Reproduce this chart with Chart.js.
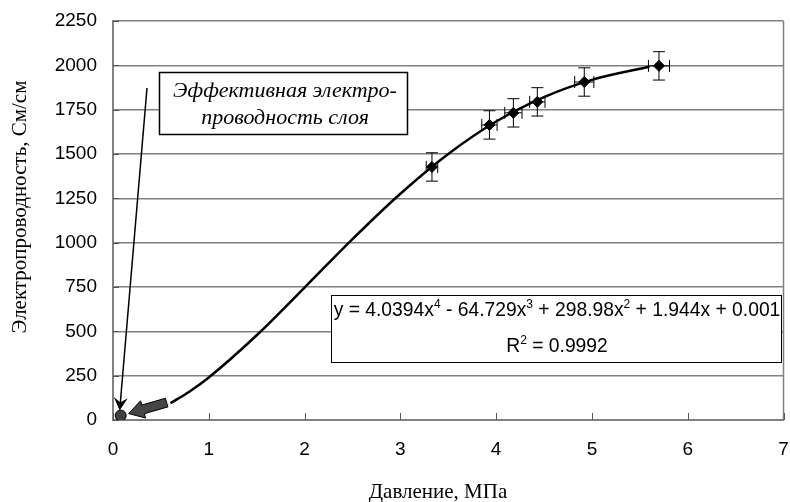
<!DOCTYPE html>
<html><head><meta charset="utf-8">
<script src="https://cdn.jsdelivr.net/npm/chart.js@4.4.1/dist/chart.umd.min.js"></script>
<style>html,body{margin:0;padding:0;background:#fff}#wrap{width:790px;height:502px;position:relative}</style>
</head><body><div id="wrap"><canvas id="c"></canvas></div>
<script>
// measured points
const pressure = [3.33, 3.93, 4.18, 4.43, 4.92, 5.70];
const conductivity = [1427, 1664, 1732, 1794, 1906, 1997];
const pressureErr = [0.06, 0.08, 0.09, 0.08, 0.10, 0.11];
const conductivityErr = [80, 80, 80, 80, 80, 80];
// trend line
const trendX = [0.6, 0.8, 1.0, 1.5, 2.0, 2.5, 3.0, 3.5, 4.0, 4.5, 5.0, 5.6];
const trendY = [95, 161, 240, 478, 747, 1020, 1276, 1500, 1683, 1821, 1918, 1992];
// layer conductivity point
const layerX = [0.08];
const layerY = [25];
// ticks
const xTicks = [0, 1, 2, 3, 4, 5, 6, 7];
const yTicks = [0, 250, 500, 750, 1000, 1250, 1500, 1750, 2000, 2250];
// texts
const xTitle = 'Давление, МПа';
const yTitle = 'Электропроводность, См/см';
const noteLines = ['Эффективная электро-', 'проводность слоя'];
const eqLine1 = [['y = 4.0394x', 0], ['4', 1], [' - 64.729x', 0], ['3', 1], [' + 298.98x', 0], ['2', 1], [' + 1.944x + 0.001', 0]];
const eqLine2 = [['R', 0], ['2', 1], [' = 0.9992', 0]];

const SANS = '"Liberation Sans", Arial, sans-serif';
const SERIF = '"Liberation Serif", "Times New Roman", serif';

function seg(ctx, parts, cx, base, size) {
  const big = size + 'px ' + SANS, small = Math.round(size * 0.63) + 'px ' + SANS;
  let w = 0;
  parts.forEach(([t, s]) => { ctx.font = s ? small : big; w += ctx.measureText(t).width; });
  let px = cx - w / 2;
  ctx.textBaseline = 'alphabetic'; ctx.textAlign = 'left';
  parts.forEach(([t, s]) => {
    ctx.font = s ? small : big;
    ctx.fillText(t, px, s ? base - size * 0.42 : base);
    px += ctx.measureText(t).width;
  });
}
function poly(ctx, pts) {
  ctx.beginPath(); ctx.moveTo(pts[0][0], pts[0][1]);
  for (let i = 1; i < pts.length; i++) ctx.lineTo(pts[i][0], pts[i][1]);
  ctx.closePath();
}

const decor = {
  id: 'decor',
  beforeDatasetsDraw(chart) {
    const { ctx, chartArea: a, scales: { x, y } } = chart;
    ctx.save();
    const ln = (x1, y1, x2, y2) => { ctx.beginPath(); ctx.moveTo(x1, y1); ctx.lineTo(x2, y2); ctx.stroke(); };
    ctx.strokeStyle = '#808080'; ctx.lineWidth = 1.5;
    ln(a.right, a.top, a.right, a.bottom);
    ctx.strokeStyle = '#555'; ctx.lineWidth = 1;
    xTicks.forEach(v => { const px = Math.round(x.getPixelForValue(v)) + 0.5; ln(px, a.bottom, px, a.bottom - 7); });
    yTicks.forEach(v => { const py = Math.round(y.getPixelForValue(v)) + 0.5; ln(a.left, py, a.left + 6, py); });
    ctx.strokeStyle = '#000'; ctx.lineWidth = 1;
    pressure.forEach((p, i) => {
      const c = conductivity[i];
      const px = x.getPixelForValue(p), py = y.getPixelForValue(c);
      const y1 = y.getPixelForValue(c - conductivityErr[i]), y2 = y.getPixelForValue(c + conductivityErr[i]);
      const x1 = x.getPixelForValue(p - pressureErr[i]), x2 = x.getPixelForValue(p + pressureErr[i]);
      ln(px, y1, px, y2); ln(px - 6, y1, px + 6, y1); ln(px - 6, y2, px + 6, y2);
      ln(x1, py, x2, py); ln(x1, py - 6, x1, py + 6); ln(x2, py - 6, x2, py + 6);
    });
    ctx.restore();
  },
  afterDraw(chart) {
    const { ctx, scales: { x, y } } = chart;
    ctx.save();
    ctx.fillStyle = '#000';
    // axis titles
    ctx.font = '21px ' + SERIF; ctx.textAlign = 'center'; ctx.textBaseline = 'middle';
    ctx.fillText(xTitle, 438, 492);
    ctx.save(); ctx.translate(20, 207); ctx.rotate(-Math.PI / 2); ctx.fillText(yTitle, 0, 0); ctx.restore();

    // pointer line with arrowhead
    const ox = x.getPixelForValue(layerX[0]), oy = y.getPixelForValue(layerY[0]);
    const sx = 147, sy = 88, tx = ox - 1, ty = oy - 5;
    const dx = tx - sx, dy = ty - sy, L = Math.hypot(dx, dy), ux = dx / L, uy = dy / L, nx = -uy, ny = ux;
    ctx.strokeStyle = '#000'; ctx.lineWidth = 1.5;
    ctx.beginPath(); ctx.moveTo(sx, sy); ctx.lineTo(tx - ux * 6, ty - uy * 6); ctx.stroke();
    const bx = tx - ux * 13, by = ty - uy * 13;
    poly(ctx, [[tx, ty], [bx + nx * 7, by + ny * 7], [tx - ux * 8, ty - uy * 8], [bx - nx * 7, by - ny * 7]]);
    ctx.fill();

    // grey block arrow
    const gtx = ox + 8, gty = oy - 2, gsx = ox + 46, gsy = oy - 13;
    const gdx = gtx - gsx, gdy = gty - gsy, gl = Math.hypot(gdx, gdy), gux = gdx / gl, guy = gdy / gl, gnx = -guy, gny = gux;
    const nkx = gtx - gux * 15, nky = gty - guy * 15, sw = 4.5, hw = 9;
    poly(ctx, [[gsx + gnx * sw, gsy + gny * sw], [nkx + gnx * sw, nky + gny * sw], [nkx + gnx * hw, nky + gny * hw], [gtx, gty],
      [nkx - gnx * hw, nky - gny * hw], [nkx - gnx * sw, nky - gny * sw], [gsx - gnx * sw, gsy - gny * sw]]);
    ctx.fillStyle = '#454545'; ctx.fill(); ctx.strokeStyle = '#000'; ctx.lineWidth = 1; ctx.stroke();

    // note box
    ctx.fillStyle = '#fff'; ctx.fillRect(159, 72, 249, 63);
    ctx.strokeStyle = '#000'; ctx.lineWidth = 1.5; ctx.strokeRect(159.5, 72.5, 248, 62);
    ctx.fillStyle = '#000'; ctx.font = 'italic 22px ' + SERIF; ctx.textAlign = 'center'; ctx.textBaseline = 'alphabetic';
    ctx.fillText(noteLines[0], 285, 97);
    ctx.fillText(noteLines[1], 285, 124);

    // equation box
    ctx.fillStyle = '#fff'; ctx.fillRect(331, 295, 451, 68);
    ctx.strokeStyle = '#000'; ctx.lineWidth = 1; ctx.strokeRect(331.5, 295.5, 450, 67);
    ctx.fillStyle = '#000';
    seg(ctx, eqLine1, 557, 316, 19.3);
    seg(ctx, eqLine2, 557, 352, 19.3);
    ctx.restore();
  }
};

new Chart(document.getElementById('c'), {
  type: 'scatter',
  data: {
    datasets: [
      { label: 'points', data: pressure.map((p, i) => ({ x: p, y: conductivity[i] })), pointStyle: 'rectRot', pointRadius: 5.5,
        backgroundColor: '#000', borderColor: '#000', showLine: false, order: 0 },
      { label: 'layer', data: layerX.map((p, i) => ({ x: p, y: layerY[i] })), pointStyle: 'circle', pointRadius: 5.5,
        backgroundColor: '#404040', borderColor: '#000', borderWidth: 1, showLine: false, order: 1 },
      { label: 'trend', data: trendX.map((p, i) => ({ x: p, y: trendY[i] })), showLine: true, pointRadius: 0,
        borderColor: '#000', borderWidth: 2.5, cubicInterpolationMode: 'monotone', order: 2 }
    ]
  },
  options: {
    responsive: true, maintainAspectRatio: false, animation: false,
    layout: { padding: { top: 21, right: 0, left: 0, bottom: 0 } },
    plugins: { legend: { display: false }, tooltip: { enabled: false } },
    scales: {
      x: {
        type: 'linear', min: 0, max: 7,
        afterBuildTicks: s => { s.ticks = xTicks.map(v => ({ value: v })); },
        afterFit: s => { s.height = 82; s.paddingLeft = 0; s.paddingRight = 0; },
        ticks: { color: '#000', font: { family: SANS, size: 19 }, padding: 18, maxRotation: 0, callback: v => String(v) },
        grid: { display: false, drawTicks: false },
        border: { color: '#808080', width: 2 }
      },
      y: {
        min: 0, max: 2250,
        afterBuildTicks: s => { s.ticks = yTicks.map(v => ({ value: v })); },
        afterFit: s => { s.width = 113; s.paddingTop = 0; s.paddingBottom = 0; },
        ticks: { color: '#000', font: { family: SANS, size: 19 }, padding: 16, callback: v => String(v) },
        grid: { color: '#808080', lineWidth: 1.5, drawTicks: false },
        border: { color: '#808080', width: 2 }
      }
    }
  },
  plugins: [decor]
});
</script></body></html>
